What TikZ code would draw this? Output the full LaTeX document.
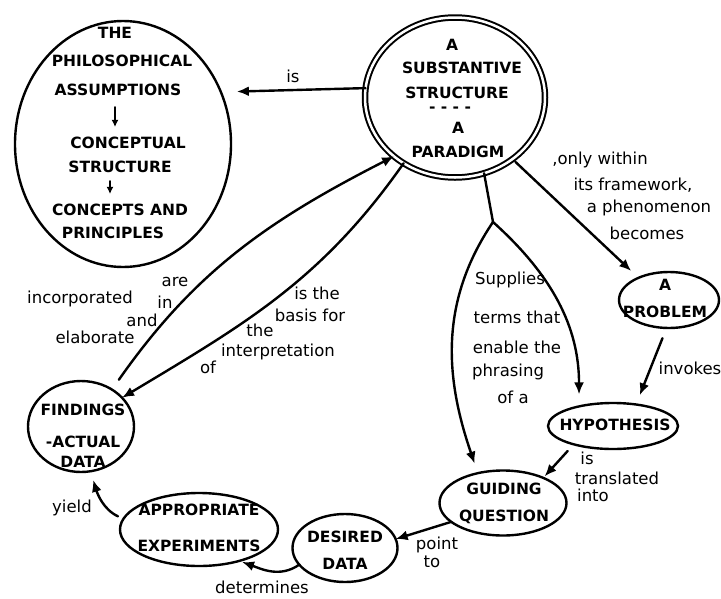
\documentclass[tikz,border=0pt]{standalone}
\usepackage{fontspec}
\setmainfont{DejaVu Sans}
\usetikzlibrary{shapes.geometric,arrows.meta}
\newcommand\bubbletext{\fontsize{15.5}{27}\selectfont\bfseries}
\newcommand\linktext{\fontsize{16.5}{20}\selectfont}
\begin{document}
\begin{tikzpicture}[x=1pt,y=-1pt,line width=2.4pt,line cap=round,
  bubble/.style={draw,ellipse,inner sep=0pt,outer sep=0pt},
  caps/.style={inner sep=0pt,align=center,font=\bubbletext},
  lbl/.style={inner sep=0pt,font=\linktext},
  link/.style={-{Latex[length=12pt,width=10pt]}},
  smalltip/.style={line width=2pt,-{Latex[length=7pt,width=7pt]}},
]
\fill[white] (0,0) rectangle (721,598);
\useasboundingbox (0,0) rectangle (721,598);

% ---- bubbles ----
\node[bubble,minimum width=216pt,minimum height=246pt] (phil) at (123,144) {};
\node[bubble,double,double distance=2.5pt,line width=2pt,
      minimum width=180pt,minimum height=160pt] (para) at (455,97.5) {};
\node[bubble,minimum width=100pt,minimum height=56pt] (prob) at (669,300) {};
\node[bubble,minimum width=130pt,minimum height=46pt] (hyp) at (613,426) {};
\node[bubble,minimum width=127pt,minimum height=65pt] (guid) at (503,503) {};
\node[bubble,minimum width=105pt,minimum height=68pt] (des) at (345,548) {};
\node[bubble,minimum width=158pt,minimum height=73pt] (appr) at (199,529.5) {};
\node[bubble,minimum width=106pt,minimum height=91pt] (find) at (81,426.5) {};

% ---- texts inside the bubbles ----
\node[caps] (phA) at (115,33) {THE};
\node[caps] (phB) at (122,61) {PHILOSOPHICAL};
\node[caps] (phC) at (118,90) {ASSUMPTIONS};
\node[caps] (phD) at (128,143) {CONCEPTUAL};
\node[caps] (phE) at (120,167) {STRUCTURE};
\node[caps] (phF) at (120,210) {CONCEPTS AND};
\node[caps] (phG) at (113,233) {PRINCIPLES};
\draw[smalltip,shorten <=10pt,shorten >=9pt]
  ([xshift=-3pt]phC.south) -- ([xshift=-3pt]phC.south |- phD.north);
\draw[smalltip,shorten <=7pt,shorten >=9pt]
  ([xshift=-10pt]phE.south) -- ([xshift=-10pt]phE.south |- phF.north);

\node[caps] (paA) at (452,45) {A};
\node[caps] (paB) at (462,68) {SUBSTANTIVE};
\node[caps] (paC) at (457,93) {STRUCTURE};
\node[caps] (paD) at (450,110) {- - - -};
\node[caps] (paE) at (458,128) {A};
\node[caps] (paF) at (458,152) {PARADIGM};

\node[caps] (probt) at (665,298) {A\\PROBLEM};
\node[caps] (hypt) at (615,425) {HYPOTHESIS};
\node[caps] (guidt) at (504,503) {GUIDING\\QUESTION};
\node[caps] (dest) at (345,550) {DESIRED\\DATA};
\node[caps] (apprt) at (199,528) {APPROPRIATE\\[9pt]EXPERIMENTS};
\node[caps] (findt) at (83,436) {FINDINGS\\[5pt]-ACTUAL\\[-7pt]DATA};

% ---- connectors ----
\draw[link,shorten >=16pt] (para.174) -- (phil.28);
\draw[link,shorten <=12pt] (find.50) to[out=55,in=207] (para.224);
\draw[link] (para.232) to[out=235,in=31] (find.35);

\coordinate (fork) at (493,222);
\draw (para.291) -- (fork);
\draw[link,shorten >=10pt] (fork) to[out=236,in=109] (guid.130);
\draw[link,shorten >=12pt] (fork) to[out=-42,in=90] (hyp.150);

\draw[link,shorten <=4pt,shorten >=10pt] (para.313) -- (prob.144);
\draw[link,shorten <=11pt,shorten >=10pt] (prob.265) -- (hyp.43);
\draw[link,shorten <=9pt,shorten >=2pt] (hyp.205) -- (guid.32);
\draw[link] (guid.200) -- (des.10);
\draw[link,shorten >=3pt] (des.200) to[out=215,in=-20] (appr.322);
\draw[link,shorten <=6pt,shorten >=9pt] (appr.172) to[out=155,in=-73] (find.282);

% ---- connector labels ----
\node[lbl] (lIs) at (293,76) {is};

\node[lbl] (lAre) at (175,282) {are};
\node[lbl] (lInc) at (80,299) {incorporated};
\node[lbl] (lIn) at (165,302) {in};
\node[lbl] (lAnd) at (142,320) {and};
\node[lbl] (lEla) at (95,337) {elaborate};

\node[lbl] (lIsthe) at (317,293) {is the};
\node[lbl] (lBasis) at (310,315) {basis for};
\node[lbl] (lThe) at (260,330) {the};
\node[lbl] (lInterp) at (278,352) {interpretation};
\node[lbl] (lOf) at (208,367) {of};

\node[lbl] (lSup) at (510,280) {Supplies};
\node[lbl] (lTerms) at (517,317) {terms that};
\node[lbl] (lEnable) at (517,347) {enable the};
\node[lbl] (lPhr) at (508,372) {phrasing};
\node[lbl] (lOfa) at (513,397) {of a};

\node[lbl] (lOnly) at (600,160) {,only within};
\node[lbl] (lFrame) at (633,185) {its framework,};
\node[lbl] (lPhen) at (649,208) {a phenomenon};
\node[lbl] (lBec) at (647,233) {becomes};

\node[lbl] (lInv) at (690,368) {invokes};

\node[lbl] (lIs2) at (587,458) {is};
\node[lbl] (lTrans) at (617,478) {translated};
\node[lbl] (lInto) at (593,495) {into};

\node[lbl] (lPoint) at (437,545) {point};
\node[lbl] (lTo) at (432,562) {to};

\node[lbl] (lDet) at (262,587) {determines};
\node[lbl] (lYield) at (72,508) {yield};
\end{tikzpicture}
\end{document}
